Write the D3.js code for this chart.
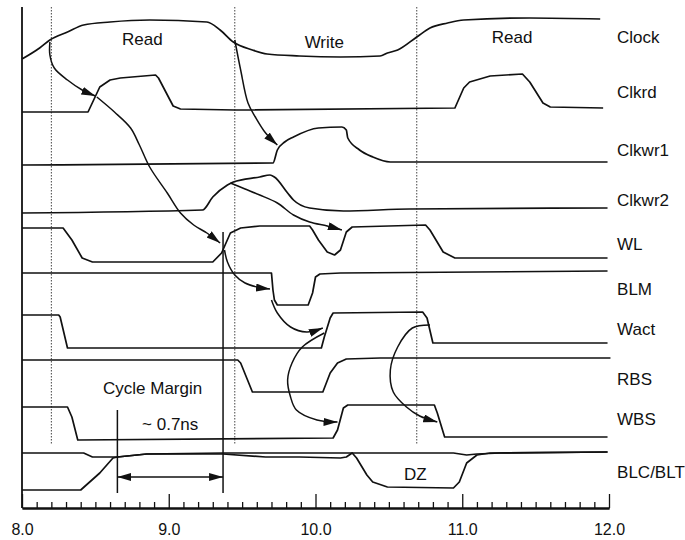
<!DOCTYPE html>
<html><head><meta charset="utf-8">
<script src="https://cdn.jsdelivr.net/npm/d3@7"></script>
<style>
body{margin:0;background:#fff}
text{font-family:Arial,"Liberation Sans",Helvetica,sans-serif;fill:#111}
</style>
</head><body>
<svg id="c" width="685" height="540"></svg>
<script>
// ---- data (time in ns, trace level in arbitrary units) ----
const signalNames = ["Clock","Clkrd","Clkwr1","Clkwr2","WL","BLM","Wact","RBS","WBS","BLC/BLT"];
const labelLevels = [471,416,358,308,264,219,179,129,89,36];

const clock  = [[8.00,449],[8.12,460],[8.19,468],[8.31,476],[8.42,483],[8.60,486],[8.87,488],[9.26,486],[9.35,478],[9.44,466],[9.57,458],[9.67,454],[9.89,452],[10.17,451],[10.44,452],[10.49,455],[10.56,458],[10.69,471],[10.78,480],[10.90,485],[11.01,488],[11.46,490],[11.94,489]];
const clkrd  = [[8.00,396],[8.45,396],[8.53,421],[8.60,428],[8.67,430],[8.91,433],[8.93,430],[9.03,402],[9.08,399],[9.45,398],[10.95,400],[11.01,420],[11.05,426],[11.19,432],[11.41,434],[11.46,426],[11.55,405],[11.60,401],[11.96,400]];
const clkwr1 = [[8.00,343],[9.71,345],[9.74,358],[9.79,366],[9.85,371],[10.02,380],[10.18,381],[10.21,378],[10.22,370],[10.30,358],[10.39,351],[10.51,346],[11.99,346]];
const clkwr2 = [[8.00,295],[9.23,298],[9.30,311],[9.40,323],[9.44,326],[9.62,331],[9.69,333],[9.72,331],[9.81,315],[9.85,308],[9.96,300],[10.19,297],[10.64,299],[11.99,300]];
const wl     = [[8.00,280],[8.28,280],[8.34,268],[8.41,250],[8.48,246],[9.30,246],[9.36,255],[9.42,275],[9.49,280],[9.62,282],[9.96,282],[9.98,278],[10.02,268],[10.08,256],[10.13,253],[10.17,258],[10.21,276],[10.25,281],[10.75,283],[10.78,278],[10.87,256],[10.95,250],[11.99,250]];
const blm    = [[8.00,235],[9.70,235],[9.71,218],[9.72,208],[9.74,203],[9.95,203],[9.98,215],[10.00,231],[10.03,234],[10.17,235],[11.99,237]];
const wact   = [[8.00,193],[8.25,193],[8.26,191],[8.31,160],[10.04,160],[10.06,171],[10.10,190],[10.12,195],[10.73,196],[10.76,190],[10.80,165],[11.99,165]];
const rbs    = [[8.00,148],[9.47,148],[9.49,145],[9.57,116],[10.05,116],[10.10,135],[10.15,145],[10.21,149],[10.44,150],[12.01,150]];
const wbs    = [[8.00,101],[8.31,101],[8.34,91],[8.38,68],[10.12,70],[10.15,78],[10.19,100],[10.22,103],[10.81,103],[10.83,95],[10.88,71],[11.99,71]];
const blc    = [[8.00,55],[8.42,55],[8.48,51],[8.65,51],[8.85,54],[9.37,55],[10.94,55],[11.03,53],[11.10,54],[11.26,55],[11.99,56]];
const blt    = [[8.00,18],[8.40,18],[8.53,35],[8.62,50],[8.65,51],[8.85,54],[9.37,54],[9.66,51],[9.89,51],[10.17,50],[10.21,51],[10.25,55],[10.28,50],[10.35,33],[10.39,26],[10.49,21],[10.94,20],[10.98,26],[11.03,45],[11.10,53],[11.19,55],[11.99,56]];

// causal arrows
const arrowClkrd  = [[8.19,466],[8.19,453],[8.22,440],[8.31,428],[8.41,418],[8.50,412]];
const arrowWL     = [[8.51,411],[8.63,396],[8.74,380],[8.80,363],[8.87,341],[8.99,315],[9.08,295],[9.17,283],[9.26,275],[9.35,265]];
const arrowClkwr1 = [[9.45,468],[9.49,438],[9.54,405],[9.59,391],[9.66,375],[9.74,363]];
const arrowDip    = [[9.42,325],[9.52,319],[9.62,313],[9.74,305],[9.85,293],[9.96,286],[10.08,282],[10.18,278]];
const arrowBLM    = [[9.38,258],[9.40,246],[9.45,233],[9.52,225],[9.60,221],[9.69,219]];
const arrowWact   = [[9.70,208],[9.74,195],[9.83,181],[9.94,176],[10.05,180]];
const arcWbsRise  = [[10.06,175],[9.91,161],[9.84,145],[9.81,128],[9.83,111],[9.87,98],[10.01,88],[10.15,86]];
const arcWbsFall  = [[10.78,183],[10.66,180],[10.56,161],[10.51,138],[10.53,116],[10.62,101],[10.71,92],[10.83,86]];

const phaseLabels = ["Read","Write","Read"];
const phaseTimes  = [8.82, 10.06, 11.34];
const phaseLevels = [469, 466, 471];
const markerTimes = [8.20, 9.45, 10.69];
const marginTimes = [8.65, 9.37];
const marginText  = ["Cycle Margin","~ 0.7ns"];
const majorTicks  = [8,9,10,11,12];
const tickLabels  = ["8.0","9.0","10.0","11.0","12.0"];
const minorTicks  = [8.1,8.2,8.3,8.4,8.5,8.6,8.7,8.8,8.9,9.1,9.2,9.3,9.4,9.5,9.6,9.7,9.8,9.9,10.1,10.2,10.3,10.4,10.5,10.6,10.7,10.8,10.9,11.1,11.2,11.3,11.4,11.5,11.6,11.7,11.8,11.9];

// ---- drawing ----
const svg = d3.select("#c");
const x = d3.scaleLinear().domain([8,12]).range([22,609]);
const y = d3.scaleLinear().domain([0,500]).range([508,8]);

const defs = svg.append("defs");
defs.append("marker").attr("id","ah").attr("markerUnits","userSpaceOnUse")
  .attr("markerWidth",16).attr("markerHeight",10).attr("refX",14).attr("refY",4)
  .attr("orient","auto-start-reverse")
  .append("path").attr("d","M0,0 L14,4 L0,8 Z").attr("fill","#111");

// dotted phase markers
svg.append("g").selectAll("line").data(markerTimes).join("line")
  .attr("x1",d=>x(d)).attr("x2",d=>x(d)).attr("y1",y(501)).attr("y2",y(63))
  .attr("stroke","#444").attr("stroke-width",1).attr("stroke-dasharray","1.5,1.5");

// left axis line
svg.append("line").attr("x1",x(8)).attr("x2",x(8)).attr("y1",y(501)).attr("y2",y(0))
  .attr("stroke","#111").attr("stroke-width",1.8);

// bottom axis
const gMinor = svg.append("g").attr("transform",`translate(0,${y(0)})`)
  .call(d3.axisBottom(x).tickValues(minorTicks).tickSize(-6).tickSizeOuter(0).tickFormat(""));
const gMajor = svg.append("g").attr("transform",`translate(0,${y(0)})`)
  .call(d3.axisBottom(x).tickValues(majorTicks).tickSize(-14).tickSizeOuter(0).tickPadding(16)
    .tickFormat((d,i)=>tickLabels[i]));
[gMinor,gMajor].forEach(g=>{
  g.select(".domain").attr("stroke","#111").attr("stroke-width",1.8);
  g.selectAll(".tick line").attr("stroke","#111").attr("stroke-width",1.3);
});
gMajor.selectAll(".tick text").attr("font-size",16).attr("fill","#111")
  .attr("font-family",'Arial,"Liberation Sans",sans-serif');

// waveforms
const smooth = new Set(["Clock","Clkwr1","Clkwr2"]);
const waveforms = [clock,clkrd,clkwr1,clkwr2,wl,blm,wact,rbs,wbs,blc];
const gw = svg.append("g").attr("fill","none").attr("stroke","#111").attr("stroke-width",1.7)
  .attr("stroke-linejoin","round");
waveforms.forEach((w,i)=>{
  const ln = d3.line().x(d=>x(d[0])).y(d=>y(d[1]))
    .curve(smooth.has(signalNames[i]) ? d3.curveMonotoneX : d3.curveLinear);
  gw.append("path").attr("d",ln(w));
});
gw.append("path").attr("d",d3.line().x(d=>x(d[0])).y(d=>y(d[1]))(blt));

// arrows
const arrowLine = d3.line().x(d=>x(d[0])).y(d=>y(d[1])).curve(d3.curveCatmullRom.alpha(0.5));
const ga = svg.append("g").attr("fill","none").attr("stroke","#111").attr("stroke-width",1.5);
[arrowClkrd,arrowWL,arrowClkwr1,arrowDip,arrowBLM,arrowWact,arcWbsRise,arcWbsFall].forEach(a=>{
  ga.append("path").attr("d",arrowLine(a)).attr("marker-end","url(#ah)");
});

// cycle margin
ga.append("line").attr("x1",x(marginTimes[0])).attr("x2",x(marginTimes[0]))
  .attr("y1",y(98)).attr("y2",y(15));
ga.append("line").attr("x1",x(marginTimes[1])).attr("x2",x(marginTimes[1]))
  .attr("y1",y(276)).attr("y2",y(15));
ga.append("line").attr("x1",x(marginTimes[0])).attr("x2",x(marginTimes[1]))
  .attr("y1",y(31)).attr("y2",y(31))
  .attr("marker-start","url(#ah)").attr("marker-end","url(#ah)");

// texts
const fs = 17;
svg.append("g").selectAll("text").data(signalNames).join("text")
  .attr("x",x(12.055)).attr("y",(d,i)=>y(labelLevels[i])).attr("dy","0.36em")
  .attr("font-size",fs).text(d=>d);
svg.append("g").selectAll("text").data(phaseLabels).join("text")
  .attr("x",(d,i)=>x(phaseTimes[i])).attr("y",(d,i)=>y(phaseLevels[i])).attr("dy","0.36em")
  .attr("text-anchor","middle").attr("font-size",fs).text(d=>d);
svg.append("text").attr("x",x(8.89)).attr("y",y(120)).attr("dy","0.36em")
  .attr("text-anchor","middle").attr("font-size",fs).text(marginText[0]);
svg.append("text").attr("x",x(9.01)).attr("y",y(84)).attr("dy","0.36em")
  .attr("text-anchor","middle").attr("font-size",fs).text(marginText[1]);
svg.append("text").attr("x",x(10.68)).attr("y",y(34)).attr("dy","0.36em")
  .attr("text-anchor","middle").attr("font-size",fs).text("DZ");
</script>
</body></html>
